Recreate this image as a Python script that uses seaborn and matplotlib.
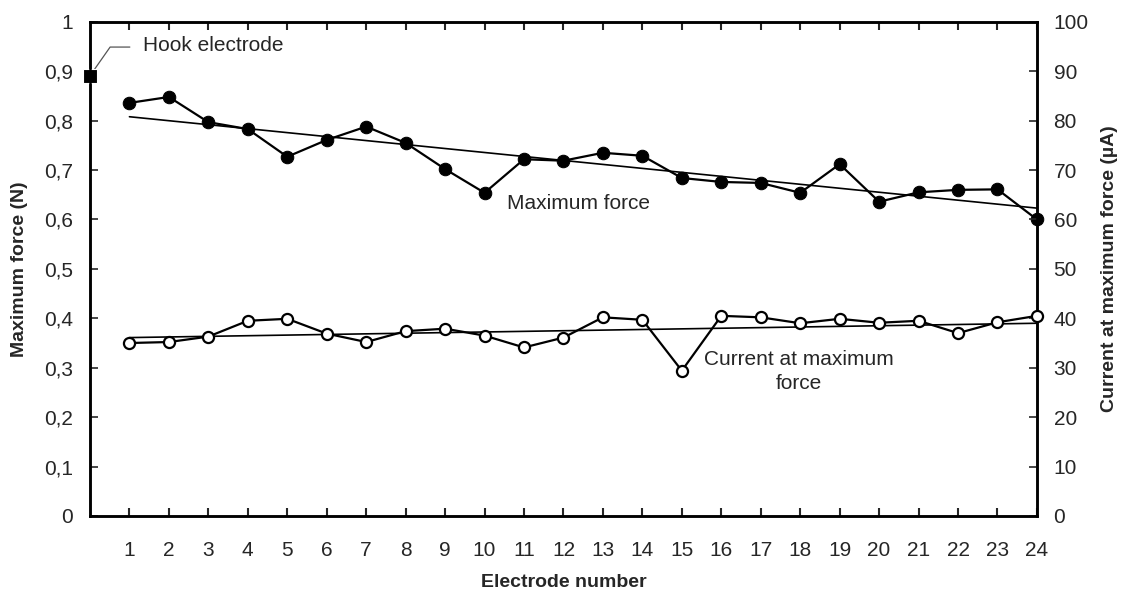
import matplotlib
matplotlib.use("Agg")
import matplotlib.pyplot as plt
import seaborn as sns
import numpy as np
import pandas as pd

electrodes = list(range(1, 25))
max_force = [0.836, 0.848, 0.797, 0.783, 0.727, 0.761, 0.788, 0.755, 0.702, 0.654,
             0.722, 0.719, 0.735, 0.729, 0.684, 0.676, 0.674, 0.654, 0.712, 0.636,
             0.655, 0.660, 0.661, 0.600]
current = [35.0, 35.2, 36.3, 39.5, 39.9, 36.9, 35.2, 37.4, 37.9, 36.5,
           34.1, 36.1, 40.2, 39.7, 29.4, 40.5, 40.2, 39.0, 39.9, 39.1,
           39.5, 37.0, 39.2, 40.5]
hook_x = [0]
hook_force = [0.89]
force_trend_x = [1, 24]
force_trend_y = [0.808, 0.623]
current_trend_x = [1, 24]
current_trend_y = [36.1, 39.0]

left_ticks = [0, 0.1, 0.2, 0.3, 0.4, 0.5, 0.6, 0.7, 0.8, 0.9, 1.0]
left_labels = ["0", "0,1", "0,2", "0,3", "0,4", "0,5", "0,6", "0,7", "0,8", "0,9", "1"]
right_ticks = [0, 10, 20, 30, 40, 50, 60, 70, 80, 90, 100]

sns.set_style("white")
plt.rcParams['font.family'] = ['Liberation Sans', 'DejaVu Sans']

FS = 15
LFS = 14

fig = plt.figure(figsize=(11.22, 5.91), dpi=100)
ax = fig.add_axes([0.0802, 0.127, 0.844, 0.836])
ax2 = ax.twinx()

df_f = pd.DataFrame({"x": electrodes, "y": max_force})
df_c = pd.DataFrame({"x": electrodes, "y": current})

# Max force series
sns.lineplot(data=df_f, x="x", y="y", ax=ax, color="black", lw=1.6,
             marker="o", markersize=9, markerfacecolor="black",
             markeredgecolor="black", clip_on=False, zorder=5)
sns.lineplot(x=force_trend_x, y=force_trend_y, ax=ax, color="black", lw=1.2, zorder=4)
sns.scatterplot(x=hook_x, y=hook_force, ax=ax, marker="s", s=100, color="black",
                clip_on=False, zorder=6)

# Current series
sns.lineplot(data=df_c, x="x", y="y", ax=ax2, color="black", lw=1.6,
             marker="o", markersize=8, markerfacecolor="white",
             markeredgecolor="black", markeredgewidth=1.6, clip_on=False, zorder=5)
sns.lineplot(x=current_trend_x, y=current_trend_y, ax=ax2, color="black", lw=1.2, zorder=4)

ax.set_xlim(0, 24)
ax.set_ylim(0, 1)
ax2.set_ylim(0, 100)
ax.set_xticks(electrodes)
ax.set_xticklabels([str(e) for e in electrodes])
ax.set_yticks(left_ticks)
ax.set_yticklabels(left_labels)
ax2.set_yticks(right_ticks)
ax2.set_yticklabels([str(t) for t in right_ticks])

ax.tick_params(axis="x", direction="in", length=6, width=1.5, pad=18,
               labelsize=FS, top=True, bottom=True)
ax.tick_params(axis="y", direction="in", length=6, width=1.2, pad=12, labelsize=FS)
ax2.tick_params(axis="y", direction="in", length=6, width=1.2, pad=12, labelsize=FS)

for a in (ax, ax2):
    for s in a.spines.values():
        s.set_color("black")
        s.set_linewidth(1.8)

ax.set_xlabel("Electrode number", fontsize=LFS, fontweight="bold", labelpad=10)
ax.set_ylabel("Maximum force (N)", fontsize=LFS, fontweight="bold", labelpad=12)
ax2.set_ylabel("Current at maximum force (µA)", fontsize=LFS, fontweight="bold", labelpad=9)

ax.grid(False)
ax2.grid(False)

# Annotations
ax.plot([0.08, 0.51, 1.01], [0.900, 0.949, 0.949], color="#555555", lw=0.9, zorder=3)
ax.text(1.34, 0.952, "Hook electrode", fontsize=FS, va="center", ha="left")
ax.text(12.37, 0.632, "Maximum force", fontsize=FS, va="center", ha="center")
ax.text(17.97, 0.2925, "Current at maximum\nforce", fontsize=FS, va="center",
        ha="center", linespacing=1.3)

fig.savefig("out.png", dpi=100)
